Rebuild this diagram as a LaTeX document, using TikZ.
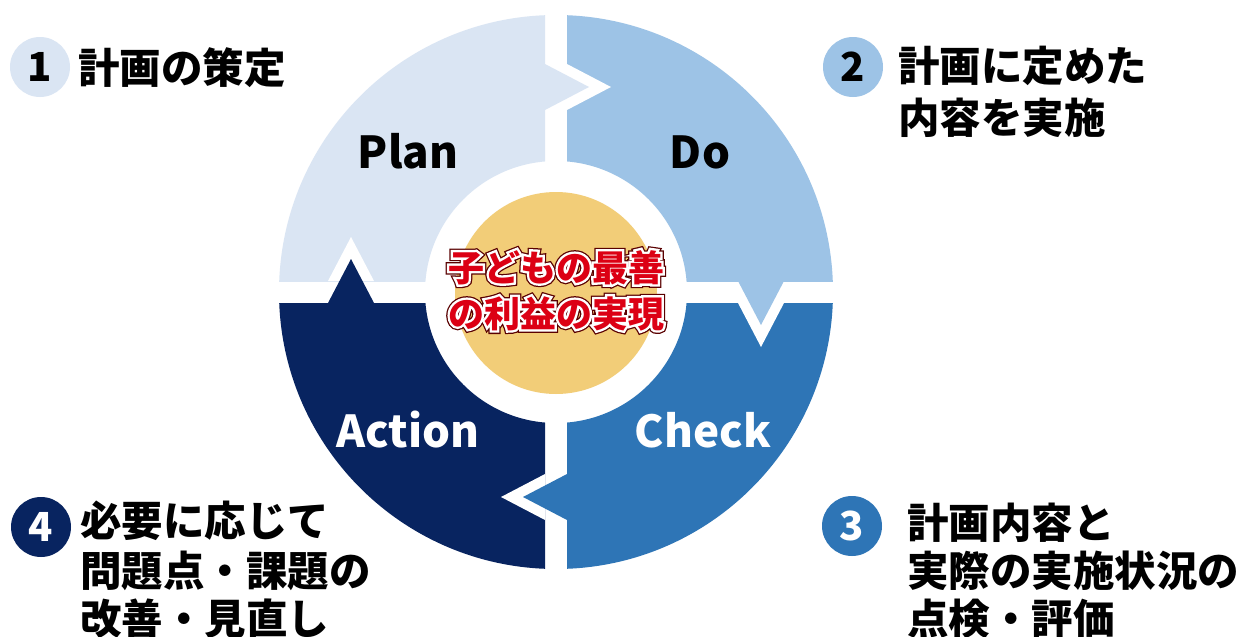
\documentclass[tikz,border=0pt]{standalone}
\usepackage{fontspec}
\setmainfont{Noto Sans CJK JP}
\newfontfamily\outA{Noto Sans CJK JP}[FakeBold=20]
\newfontfamily\outB{Noto Sans CJK JP}[FakeBold=13]
\definecolor{planc}{RGB}{218,229,243}
\definecolor{doc}{RGB}{157,195,230}
\definecolor{checkc}{RGB}{46,117,182}
\definecolor{actc}{RGB}{8,36,96}
\definecolor{corec}{RGB}{242,205,120}
\definecolor{txtred}{RGB}{220,0,20}
\definecolor{outl}{RGB}{90,0,0}
\newcommand\halotext[1]{\makebox[0pt]{\outA\bfseries\color{outl}#1}\makebox[0pt]{\outB\bfseries\color{white}#1}\makebox[0pt]{\bfseries\color{txtred}#1}}
\tikzset{
  lab/.style={anchor=base, inner sep=0pt, font=\fontsize{44}{44}\selectfont\bfseries},
  num/.style={circle, minimum size=60pt, inner sep=0pt, font=\fontsize{40}{40}\selectfont\bfseries},
  desc/.style={anchor=base west, inner sep=0pt, font=\fontsize{41.5}{41.5}\selectfont\bfseries},
  ctr/.style={anchor=base, inner sep=0pt, font=\fontsize{36}{36}\selectfont}
}
\begin{document}
\begin{tikzpicture}[x=1pt,y=-1pt]
\useasboundingbox[fill=white] (0,0) rectangle (1256,637);
\coordinate (C) at (556,292);
% quadrant sectors
\begin{scope}
  \clip (0,0) rectangle (545,281);
  \fill[planc,even odd rule] (C) circle (277pt) (C) circle (131pt);
\end{scope}
\begin{scope}
  \clip (567,0) rectangle (1256,281);
  \fill[doc,even odd rule] (C) circle (277pt) (C) circle (131pt);
\end{scope}
\begin{scope}
  \clip (567,303) rectangle (1256,637);
  \fill[checkc,even odd rule] (C) circle (277pt) (C) circle (131pt);
\end{scope}
\begin{scope}
  \clip (0,303) rectangle (545,637);
  \fill[actc,even odd rule] (C) circle (277pt) (C) circle (131pt);
\end{scope}
% notches
\fill[white] (567,64) -- (611,87) -- (567,110) -- cycle;
\fill[white] (738,303) -- (761,347) -- (784,303) -- cycle;
\fill[white] (545,474) -- (501,497) -- (545,520) -- cycle;
\fill[white] (328,281) -- (351,237) -- (374,281) -- cycle;
% arrow heads
\fill[planc] (545,64) -- (589,87) -- (545,110) -- cycle;
\fill[doc] (738,281) -- (761,325) -- (784,281) -- cycle;
\fill[checkc] (567,474) -- (523,497) -- (567,520) -- cycle;
\fill[actc] (328,303) -- (351,259) -- (374,303) -- cycle;
% core
\node[circle, fill=corec, minimum size=202pt, inner sep=0pt] (core) at (556,293) {};
\node[ctr] (c1) at (556,281) {\halotext{子どもの最善}};
\node[ctr] (c2) at (556,327) {\halotext{の利益の実現}};
% phase labels
\node[lab, text=black] (plan) at (408,168) {Plan};
\node[lab, text=black] (do) at (700,168) {Do};
\node[lab, text=white] (action) at (408,447) {Action};
\node[lab, text=white] (check) at (703,447) {Check};
% numbered steps
\node[num, fill=planc, text=black] (n1) at (40,67) {1};
\node[desc] (t1a) at (78,83) {計画の策定};
\node[num, fill=doc, text=black] (n2) at (853,67) {2};
\node[desc] (t2a) at (898,81) {計画に定めた};
\node[desc] (t2b) at (898,133) {内容を実施};
\node[num, fill=checkc, text=white] (n3) at (852,526) {3};
\node[desc] (t3a) at (907,538) {計画内容と};
\node[desc] (t3b) at (907,586) {実際の実施状況の};
\node[desc] (t3c) at (907,634) {点検・評価};
\node[num, fill=actc, text=white] (n4) at (41,527) {4};
\node[desc] (t4a) at (80,536) {必要に応じて};
\node[desc] (t4b) at (80,586) {問題点・課題の};
\node[desc] (t4c) at (80,634) {改善・見直し};
\end{tikzpicture}
\end{document}
